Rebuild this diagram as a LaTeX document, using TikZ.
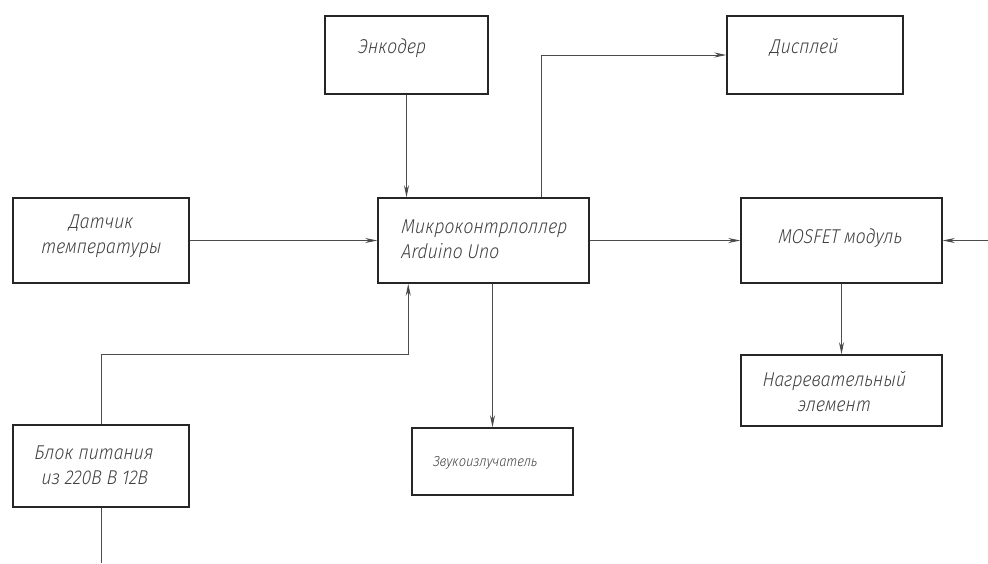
\documentclass[tikz,border=0pt]{standalone}
\usepackage{fontspec}
\newfontfamily\gost{Fira Sans Light Italic}[FakeStretch=0.88,FakeSlant=0.08]
\usetikzlibrary{arrows.meta}
\tikzset{
  box/.style={draw=black!85, line width=1.5pt, inner sep=0pt},
  conn/.style={draw=black!70, line width=0.9pt, -{Stealth[length=12pt,width=5pt,fill=black!90]}},
  plain/.style={draw=black!70, line width=0.9pt},
  txt/.style={font=\gost\fontsize{20}{25}\selectfont, text=black!75, align=center, inner sep=0pt},
  smalltxt/.style={font=\gost\fontsize{14.5}{16}\selectfont, text=black!75, inner sep=0pt}
}
\begin{document}
\begin{tikzpicture}[x=1pt,y=-1pt]
\useasboundingbox (0,0) rectangle (988,563);
% boxes
\node[box, minimum width=163pt, minimum height=78pt] (enc)  at (406.5,55)   {};
\node[box, minimum width=176pt, minimum height=85pt] (temp) at (101,240.5)  {};
\node[box, minimum width=211pt, minimum height=85pt] (mcu)  at (483.5,240.5){};
\node[box, minimum width=176pt, minimum height=78pt] (disp) at (815,55)     {};
\node[box, minimum width=201pt, minimum height=85pt] (mos)  at (841.5,240.5){};
\node[box, minimum width=201pt, minimum height=71pt] (heat) at (841.5,390.5){};
\node[box, minimum width=161pt, minimum height=67pt] (buzz) at (492.5,461.5){};
\node[box, minimum width=176pt, minimum height=82pt] (pow)  at (101,466)    {};
% texts
\node[txt] (enct)  at (392,48)  {Энкодер};
\node[txt] (tempt) at (101,236) {Датчик\\температуры};
\node[txt, align=left, anchor=west] (mcut) at (401,239) {Микроконтрлоллер\\Arduino Uno};
\node[txt] (dispt) at (804,47)  {Дисплей};
\node[txt] (most)  at (840,238) {MOSFET модуль};
\node[txt] (heatt) at (834,392) {Нагревательный\\элемент};
\node[smalltxt] (buzzt) at (485,463) {Звукоизлучатель};
\node[txt, align=left, anchor=west] (powt) at (34,465) {Блок питания\\\hspace*{7pt}из 220В В 12В};
% free ends
\coordinate (rin)  at (988,240.5);
\coordinate (pout) at (101,563);
% connectors
\draw[conn] (enc.south) -- (enc.south |- mcu.north);
\draw[conn] (temp.east) -- (mcu.west);
\draw[conn] ([xshift=164pt]mcu.north west) |- (disp.west);
\draw[conn] (mcu.east) -- (mos.west);
\draw[conn] (rin) -- (mos.east);
\draw[conn] (mos.south) -- (heat.north);
\draw[conn] (buzz.north |- mcu.south) -- (buzz.north);
\draw[conn] (pow.north) -- ++(0,-70) -| ([xshift=31pt]mcu.south west);
\draw[plain] (pow.south) -- (pout);
\end{tikzpicture}
\end{document}
